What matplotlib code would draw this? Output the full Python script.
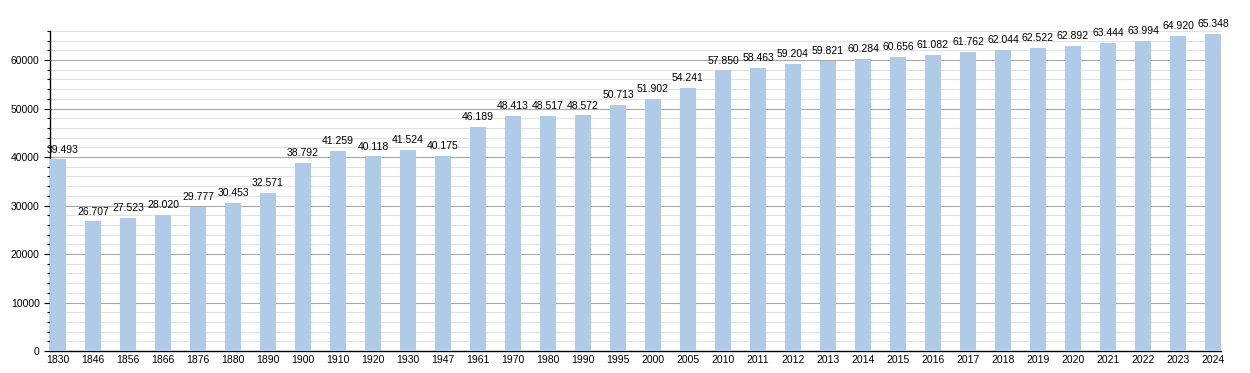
import matplotlib
matplotlib.use("Agg")
import matplotlib.pyplot as plt
from matplotlib.ticker import MultipleLocator

years = ["1830", "1846", "1856", "1866", "1876", "1880", "1890", "1900", "1910", "1920",
         "1930", "1947", "1961", "1970", "1980", "1990", "1995", "2000", "2005", "2010",
         "2011", "2012", "2013", "2014", "2015", "2016", "2017", "2018", "2019", "2020",
         "2021", "2022", "2023", "2024"]
population = [39493, 26707, 27523, 28020, 29777, 30453, 32571, 38792, 41259, 40118,
              41524, 40175, 46189, 48413, 48517, 48572, 50713, 51902, 54241, 57850,
              58463, 59204, 59821, 60284, 60656, 61082, 61762, 62044, 62522, 62892,
              63444, 63994, 64920, 65348]

plt.rcParams['font.family'] = ['Liberation Sans', 'DejaVu Sans']

fig = plt.figure(figsize=(12.5, 3.73), dpi=100)
ax = fig.add_axes([0.04, 0.059, 0.9368, 0.858])

x = list(range(len(years)))
ax.bar(x, population, width=0.46, color="#b0cbe7", zorder=3)

for i, (xi, v) in enumerate(zip(x, population)):
    s = f"{v:,}".replace(",", ".")
    dx = 3 if i == 0 else 0
    ax.annotate(s, (xi, v), xytext=(dx, 3.5), textcoords="offset points",
                ha="center", va="bottom", fontsize=7.5, color="black", zorder=4)

ax.set_xlim(-0.23, len(years) - 1 + 0.23)
ax.set_ylim(0, 66000)
ax.yaxis.set_major_locator(MultipleLocator(10000))
ax.yaxis.set_minor_locator(MultipleLocator(2000))
ax.grid(which="major", axis="y", color="#a8a8a8", linewidth=0.8, zorder=0)
ax.grid(which="minor", axis="y", color="#e2e2e2", linewidth=0.8, zorder=0)

ax.set_xticks(x)
ax.set_xticklabels(years)
ax.tick_params(axis="x", length=0, labelsize=7.5, pad=3)
ax.tick_params(axis="y", which="major", length=4, width=0.8, labelsize=7.5, direction="out")
ax.tick_params(axis="y", which="minor", length=2.5, width=0.8, direction="out")

for side in ("top", "right"):
    ax.spines[side].set_visible(False)
ax.spines["left"].set_color("black")
ax.spines["bottom"].set_color("black")
ax.spines["left"].set_linewidth(1.0)
ax.spines["bottom"].set_linewidth(1.0)

fig.savefig("out.png", dpi=100)
